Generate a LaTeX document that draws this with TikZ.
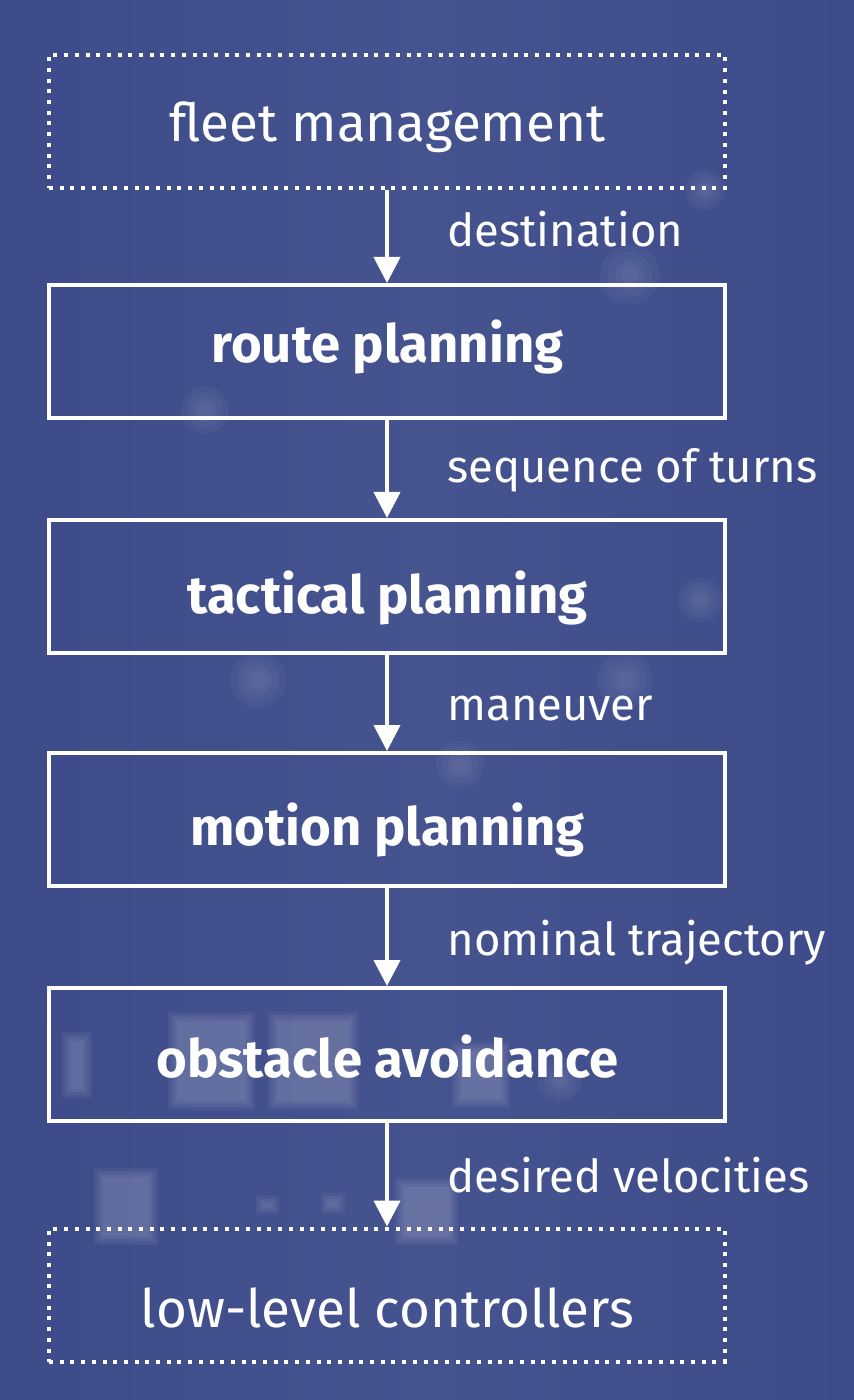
\documentclass[tikz,border=0pt]{standalone}
\usepackage{fontspec}
\setmainfont{Fira Sans}
\usetikzlibrary{arrows.meta}
\definecolor{bgblue}{HTML}{3D4B8A}
\definecolor{bgmid}{HTML}{45538F}
\tikzset{
  stage/.style={draw=white, line width=2pt, minimum width=338pt, minimum height=66.5pt, inner sep=0pt},
  outer/.style={stage, dash pattern=on 2pt off 3.35pt},
  btxt/.style={text=white, anchor=base, inner sep=0pt, font=\bfseries\fontsize{26.3}{30}\selectfont},
  rtxt/.style={text=white, anchor=base, inner sep=0pt, font=\fontsize{26.5}{30}\selectfont},
  flow/.style={draw=white, line width=2pt, -{Triangle[length=13pt,width=13pt]}},
  lbl/.style={text=white, anchor=base west, inner sep=0pt, font=\fontsize{22.7}{26}\selectfont},
}
\begin{document}
\begin{tikzpicture}[x=0.5pt,y=-0.5pt]
  \shade[left color=bgblue, right color=bgblue, middle color=bgmid, shading angle=90] (0,0) rectangle (854,1400);
  \useasboundingbox (0,0) rectangle (854,1400);
  % faint blurred background lights
  \foreach \a/\b/\c/\d in {62/1032/92/1098, 168/1012/255/1110, 268/1012/358/1110, 452/1042/510/1108,
      94/1168/158/1245, 256/1196/279/1214, 321/1193/345/1214, 395/1178/458/1245}{
    \foreach \k in {0,3,6,9}{
      \fill[white, opacity=0.05] (\a+\k,\b+\k) rectangle (\c-\k,\d-\k);
    }
  }
  \foreach \p/\r in {{(630,275)}/30, {(205,410)}/24, {(258,680)}/28, {(625,680)}/28, {(700,600)}/22, {(460,765)}/24, {(705,190)}/20, {(560,1080)}/22}{
    \foreach \f in {1,0.75,0.5,0.3}{
      \fill[white, opacity=0.035] \p circle (\r*\f);
    }
  }

  \node[outer] (fleet)  at (387,121.5) {};
  \node[stage] (route)  at (387,351.5) {};
  \node[stage] (tact)   at (387,586.5) {};
  \node[stage] (motion) at (387,819.5) {};
  \node[stage] (obst)   at (387,1054.5) {};
  \node[outer] (low)    at (387,1295) {};

  \node[rtxt] (fleet-t)  at (387.5,142)  {fleet management};
  \node[btxt] (route-t)  at (387.5,363)  {route planning};
  \node[btxt] (tact-t)   at (387.5,613)  {tactical planning};
  \node[btxt] (motion-t) at (387.5,845)  {motion planning};
  \node[btxt] (obst-t)   at (387.5,1077) {obstacle avoidance};
  \node[rtxt] (low-t)    at (387.5,1327) {low-level controllers};

  \draw[flow] (fleet.south)  -- (route.north);
  \draw[flow] (route.south)  -- (tact.north);
  \draw[flow] (tact.south)   -- (motion.north);
  \draw[flow] (motion.south) -- (obst.north);
  \draw[flow] (obst.south)   -- (low.north);

  \node[lbl] (l1) at (447,247)  {destination};
  \node[lbl] (l2) at (447,483)  {sequence of turns};
  \node[lbl] (l3) at (447,720)  {maneuver};
  \node[lbl] (l4) at (447,955)  {nominal trajectory};
  \node[lbl] (l5) at (447,1192) {desired velocities};
\end{tikzpicture}
\end{document}
